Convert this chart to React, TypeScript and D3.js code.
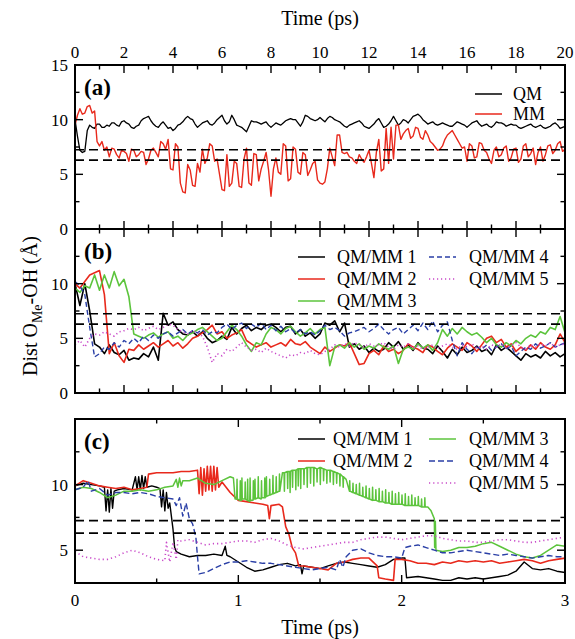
import React from "react";
import * as d3 from "d3";

// ---------- DATA ----------
const STEP_A = 0.1; // ps between samples in panel (a)
const STEP_B = 0.2; // ps between samples in panel (b)

// Panel (a)
const qmA = [
  10.0, 8.5, 7.2, 7.0, 7.1, 9.0, 9.5, 9.3, 9.2, 9.6,
  9.6, 9.3, 9.3, 9.5, 9.4, 9.7, 9.7, 9.5, 9.4, 9.8,
  9.9, 9.7, 9.6, 9.3, 9.2, 9.4, 9.5, 9.9, 10.1, 10.2,
  10.3, 9.9, 9.6, 9.4, 9.3, 9.6, 9.8, 9.5, 9.2, 9.3,
  9.0, 9.2, 9.5, 9.6, 9.8, 10.1, 10.3, 10.1, 10.0, 9.6,
  9.3, 9.5, 9.7, 9.8, 9.9, 9.6, 9.5, 9.7, 10.0, 10.2,
  10.4, 9.9, 9.6, 9.8, 10.4, 10.0, 9.5, 9.4, 9.3, 9.1,
  8.9, 9.4, 9.9, 9.8, 9.8, 9.7, 9.6, 9.7, 9.8, 9.5,
  9.3, 9.5, 9.7, 9.6, 9.5, 9.7, 9.9, 10.0, 10.1, 10.0,
  10.0, 9.7, 9.4, 9.8, 10.4, 10.3, 10.1, 10.0, 9.9, 10.0,
  10.2, 10.0, 9.8, 10.1, 10.3, 10.2, 10.0, 9.9, 9.8, 9.6,
  9.4, 9.3, 9.5, 9.6, 9.7, 9.8, 9.9, 9.7, 9.4, 9.3,
  9.2, 9.4, 9.6, 9.9, 10.1, 9.7, 9.3, 9.4, 9.6, 9.9,
  10.3, 9.9, 9.5, 9.7, 10.0, 9.9, 9.7, 10.0, 10.3, 10.4,
  10.5, 10.3, 10.0, 9.8, 9.6, 9.7, 9.8, 9.6, 9.5, 9.6,
  9.7, 9.6, 9.5, 9.4, 9.4, 9.6, 9.8, 9.7, 9.6, 9.5,
  9.3, 9.5, 9.7, 9.8, 9.9, 9.6, 9.4, 9.5, 9.6, 9.4,
  9.3, 9.5, 9.8, 9.7, 9.7, 9.6, 9.4, 9.5, 9.6, 9.5,
  9.5, 9.3, 9.2, 9.3, 9.4, 9.5, 9.6, 9.4, 9.3, 9.4,
  9.5, 9.3, 9.2, 9.3, 9.4, 9.6, 9.7, 9.5, 9.2, 9.3,
  9.4,
];
const mmA = [
  9.5, 10.4, 11.0, 10.5, 10.6, 11.2, 11.3, 10.6, 10.8, 8.0,
  7.6, 8.0, 7.2, 7.5, 6.6, 7.4, 7.3, 6.8, 6.5, 7.2,
  7.1, 6.9, 6.2, 7.3, 7.2, 6.6, 6.8, 7.1, 7.0, 5.9,
  6.4, 7.2, 7.4, 7.0, 6.6, 8.0, 7.8, 7.3, 8.2, 5.5,
  5.4, 7.8, 7.5, 4.2, 3.4, 3.3, 5.9, 5.4, 4.0, 3.9,
  6.0, 5.2, 7.3, 6.0, 6.5, 7.8, 7.6, 6.2, 6.4, 5.0,
  3.6, 3.5, 6.8, 3.9, 4.2, 6.2, 6.0, 3.9, 3.8, 6.4,
  7.4, 4.2, 4.0, 6.9, 6.8, 4.4, 5.5, 6.2, 7.0, 5.4,
  3.0, 5.5, 6.5, 5.2, 5.0, 7.8, 7.6, 4.4, 4.6, 7.5,
  7.3, 5.2, 5.0, 7.0, 6.8, 4.9, 5.4, 6.0, 6.2, 4.5,
  4.2, 4.1, 4.3, 5.5, 7.4, 6.6, 5.8, 8.6, 8.6, 7.0,
  6.9, 7.0, 6.6, 6.5, 6.2, 6.0, 6.8, 6.4, 6.1, 6.6,
  7.2, 6.0, 4.7, 7.0, 8.2, 5.3, 5.5, 9.2, 6.0, 9.3,
  6.4, 9.5, 9.5, 8.2, 8.7, 9.0, 9.2, 8.3, 8.5, 9.3,
  9.2, 8.4, 8.2, 9.0, 8.6, 8.0, 7.8, 7.5, 7.2, 7.3,
  7.6, 8.2, 8.6, 8.8, 9.0, 8.6, 8.2, 7.8, 7.4, 7.5,
  6.2, 7.8, 7.6, 6.5, 6.6, 7.9, 7.8, 7.2, 7.0, 6.4,
  6.0, 7.2, 7.5, 6.6, 6.8, 7.4, 7.6, 6.2, 6.5, 7.3,
  7.4, 6.1, 6.4, 7.6, 7.8, 6.6, 6.9, 7.4, 5.9, 7.0,
  7.5, 6.2, 6.8, 7.6, 7.7, 6.9, 7.2, 7.8, 8.0, 7.1,
  7.3,
];

// Panel (b)
const b1 = [
  10.0, 8.0, 10.0, 7.5, 4.5, 4.2, 3.6, 4.4, 3.7, 3.5,
  3.9, 3.0, 3.2, 3.1, 3.6, 3.3, 4.2, 3.0, 7.3, 6.2,
  6.5, 5.8, 5.4, 5.3, 5.6, 5.2, 5.6, 5.0, 4.6, 4.8,
  5.2, 4.9, 6.0, 5.4, 5.9, 6.2, 5.7, 6.0, 5.8, 6.2,
  6.3, 6.0, 5.6, 6.0, 6.1, 5.4, 5.8, 5.2, 5.5, 5.0,
  5.4, 6.4, 6.2, 6.6, 5.6, 6.4, 4.2, 4.5, 4.0, 4.3,
  3.7, 4.1, 3.8, 4.0, 4.6, 4.2, 4.7, 4.0, 4.4, 3.9,
  4.6, 4.1, 4.0, 3.6, 4.3, 3.8, 3.2, 4.0, 3.5, 4.2,
  3.7, 3.9, 4.3, 3.8, 4.0, 3.5, 4.4, 3.9, 4.2, 3.8,
  3.4, 3.0, 3.6, 3.3, 3.5, 3.2, 3.8, 3.4, 3.7, 3.3,
  3.6,
];
const b2 = [
  10.0, 9.6, 10.2, 10.8, 11.0, 11.2, 9.0, 3.6, 4.6, 3.4,
  2.8, 4.0, 3.9, 4.4, 4.0, 4.3, 4.6, 4.2, 4.5, 4.8,
  4.3, 4.6, 4.1, 4.5, 5.0, 5.2, 5.5, 5.8, 6.2, 5.4,
  5.6, 5.0, 5.3, 5.5, 5.8, 4.8, 4.5, 4.2, 4.4, 4.6,
  4.2, 4.4, 4.6, 4.3, 4.9, 4.5, 4.4, 4.7, 4.2, 3.9,
  3.6, 4.2, 3.8, 4.1, 4.4, 4.3, 4.6, 3.6, 2.6, 2.7,
  3.6, 3.9, 3.5, 4.3, 3.8, 4.0, 3.6, 3.9, 4.5, 4.2,
  4.0, 3.7, 4.4, 4.2, 3.8, 3.5, 4.1, 4.5, 4.2, 3.9,
  4.6, 4.3, 3.8, 4.4, 5.0, 5.2, 4.6, 4.9, 4.2, 4.5,
  3.8, 4.2, 3.9, 4.4, 4.0, 4.6, 4.2, 4.0, 4.4, 5.4,
  4.6,
];
const b3 = [
  9.6, 9.2, 9.8, 9.6, 10.8, 9.4, 10.8, 9.6, 11.1, 9.8,
  10.4, 8.8, 5.4, 5.2, 5.0, 5.3, 5.5, 5.1, 5.4, 5.6,
  5.0, 5.2, 4.8, 5.3, 5.5, 5.8, 6.0, 5.6, 5.2, 4.8,
  5.0, 5.6, 6.2, 5.8, 5.2, 4.4, 3.8, 4.6, 4.4, 5.4,
  6.0, 5.8, 5.4, 5.9, 6.1, 5.6, 5.2, 5.5, 5.9, 5.4,
  5.8, 6.0, 2.5, 4.2, 4.4, 4.1, 4.6, 4.2, 4.5, 4.0,
  4.3, 4.1, 4.5, 4.2, 4.0, 4.3, 2.7, 4.0, 4.2, 4.0,
  4.5, 4.1, 4.4, 3.9, 4.6, 5.8, 5.2, 5.9, 5.4, 6.0,
  5.6, 5.3, 5.5, 5.1, 4.6, 5.0, 4.4, 4.2, 4.6, 4.3,
  4.8, 4.5, 5.0, 5.3, 5.1, 5.6, 5.4, 6.0, 5.8, 7.0,
  5.5,
];
const b4 = [
  10.2, 9.8, 9.0, 6.0, 3.3, 3.6, 4.2, 4.0, 4.6, 4.2,
  4.8, 4.5, 5.0, 4.6, 5.2, 4.8, 5.3, 5.0, 5.4, 5.6,
  5.2, 5.5, 5.8, 5.4, 5.7, 5.5, 5.8, 5.3, 5.6, 5.5,
  6.0, 6.3, 5.8, 6.2, 6.4, 5.9, 6.3, 6.0, 6.4, 5.8,
  6.2, 5.7, 6.1, 5.6, 5.9, 5.5, 5.8, 5.4, 5.6, 5.3,
  5.7, 6.2, 5.8, 6.0, 5.7, 5.2, 5.5, 5.6, 5.8, 6.0,
  5.6, 5.9, 6.3, 5.8, 5.4, 5.8, 6.0, 5.4, 5.8, 6.2,
  5.7, 6.4, 5.8, 6.6, 5.6, 6.2, 6.5, 4.8, 3.4, 4.6,
  4.0, 3.6, 4.2, 4.0, 4.4, 3.9, 4.2, 4.5, 4.0, 4.3,
  3.4, 3.8, 4.2, 4.0, 4.5, 4.1, 4.3, 4.6, 4.2, 4.4,
  4.6,
];
const b5 = [
  4.4, 4.8, 4.2, 5.0, 5.4, 5.3, 5.6, 5.4, 5.2, 5.6,
  5.7, 5.9, 5.8, 6.0, 5.7, 5.9, 6.1, 5.8, 6.0, 6.3,
  6.2, 5.8, 5.6, 5.4, 5.7, 5.5, 5.2, 4.2, 2.8, 3.6,
  3.4, 4.0, 3.8, 4.2, 4.6, 4.2, 3.9, 4.0, 3.7, 4.1,
  3.8, 3.6, 3.4, 3.2, 3.5, 3.4, 3.7, 3.6, 3.9, 3.6,
  3.5, 3.8, 4.0, 4.4, 4.2, 4.5, 4.3, 4.6, 4.4, 4.2,
  4.5, 4.3, 4.4, 4.6, 4.2, 4.0, 4.4, 4.2, 4.5, 4.1,
  4.3, 4.0, 4.2, 4.4, 4.1, 4.3, 4.5, 4.2, 4.0, 4.4,
  4.2, 4.5, 4.1, 4.3, 4.0, 4.4, 4.2, 4.5, 4.1, 4.3,
  4.6, 4.2, 4.0, 4.4, 4.2, 4.5, 4.3, 4.6, 4.2, 4.4,
  4.5,
];

// Panel (c): [time (ps), distance (Å)]
const c1: [number, number][] = [
  [0, 9.9], [0.05, 10.1], [0.1, 10.0], [0.15, 9.9], [0.18, 9.8], [0.19, 8.0], [0.2, 9.6], [0.21, 7.9],
  [0.22, 9.7], [0.23, 8.2], [0.24, 9.5], [0.26, 9.6], [0.3, 9.7], [0.35, 9.6], [0.37, 10.6], [0.38, 9.6],
  [0.39, 10.6], [0.4, 9.6], [0.41, 10.7], [0.42, 9.7], [0.43, 10.6], [0.44, 9.8], [0.47, 9.9], [0.5, 9.8],
  [0.52, 9.7], [0.53, 8.3], [0.54, 9.6], [0.55, 8.0], [0.56, 9.4], [0.57, 8.2], [0.58, 8.6], [0.6, 6.6],
  [0.61, 5.2], [0.62, 4.9], [0.65, 4.7], [0.7, 4.5], [0.75, 4.6], [0.8, 4.6], [0.85, 4.7], [0.9, 4.6],
  [0.92, 5.3], [0.93, 4.6], [0.95, 4.5], [1.0, 4.1], [1.05, 3.7], [1.1, 3.4], [1.15, 3.5], [1.2, 3.7],
  [1.25, 3.9], [1.3, 4.0], [1.35, 3.8], [1.38, 3.9], [1.39, 3.2], [1.4, 3.8], [1.45, 3.7], [1.5, 3.6],
  [1.55, 3.8], [1.6, 4.0], [1.65, 4.1], [1.7, 4.0], [1.75, 3.9], [1.8, 3.8], [1.85, 3.7], [1.9, 3.9],
  [1.95, 4.3], [2.0, 4.4], [2.02, 4.4], [2.03, 2.9], [2.1, 3.0], [2.15, 2.9], [2.2, 2.8], [2.25, 2.7],
  [2.3, 2.7], [2.35, 2.9], [2.4, 2.8], [2.45, 2.9], [2.5, 2.8], [2.55, 2.9], [2.6, 3.0], [2.65, 3.1],
  [2.7, 3.4], [2.75, 4.1], [2.8, 3.6], [2.85, 3.5], [2.9, 3.6], [2.95, 3.4], [3.0, 3.3],
];
const c2: [number, number][] = [
  [0, 9.9], [0.05, 10.3], [0.1, 10.1], [0.15, 9.9], [0.2, 9.8], [0.25, 9.7], [0.3, 9.8], [0.35, 9.6],
  [0.4, 9.7], [0.44, 9.8], [0.45, 10.8], [0.5, 10.9], [0.55, 10.9], [0.6, 10.9], [0.65, 11.0], [0.7, 11.0],
  [0.75, 11.1], [0.76, 9.3], [0.77, 11.3], [0.78, 9.2], [0.79, 11.2], [0.8, 9.5], [0.81, 11.4], [0.82, 9.6],
  [0.83, 11.4], [0.84, 9.5], [0.85, 11.4], [0.86, 9.6], [0.87, 11.3], [0.88, 9.8], [0.9, 10.2], [0.95, 9.4],
  [1.0, 8.8], [1.05, 8.7], [1.1, 8.6], [1.15, 8.5], [1.18, 8.4], [1.19, 7.4], [1.2, 8.4], [1.25, 8.5],
  [1.27, 8.3], [1.29, 6.8], [1.31, 6.2], [1.33, 5.2], [1.35, 4.8], [1.37, 3.8], [1.4, 3.8], [1.45, 3.7],
  [1.5, 3.6], [1.55, 3.5], [1.6, 4.0], [1.65, 4.1], [1.7, 4.3], [1.75, 4.4], [1.8, 4.4], [1.85, 3.8],
  [1.86, 2.9], [1.9, 2.8], [1.95, 2.7], [1.96, 4.3], [2.0, 4.3], [2.05, 4.2], [2.1, 4.0], [2.15, 4.0],
  [2.2, 3.9], [2.25, 4.1], [2.3, 4.0], [2.35, 4.2], [2.4, 4.1], [2.45, 4.2], [2.5, 4.1], [2.55, 4.2],
  [2.6, 4.0], [2.65, 4.1], [2.7, 4.2], [2.75, 4.3], [2.8, 4.2], [2.85, 4.0], [2.9, 4.2], [2.95, 4.3],
  [3.0, 4.4],
];
const c3: [number, number][] = [
  [0, 9.6], [0.05, 9.8], [0.1, 9.7], [0.15, 9.4], [0.2, 9.0], [0.25, 9.2], [0.3, 9.5], [0.35, 9.5],
  [0.4, 9.6], [0.45, 9.5], [0.5, 9.6], [0.55, 9.8], [0.6, 9.9], [0.62, 10.4], [0.63, 9.8], [0.64, 10.5],
  [0.65, 9.9], [0.66, 10.3], [0.7, 10.3], [0.75, 10.5], [0.8, 10.1], [0.85, 10.0], [0.9, 10.3], [0.95, 10.6],
  [0.97, 10.5],
  [0.98, 8.9], [0.99, 8.9], [0.992, 10.4], [0.994, 8.9], [1.01, 8.8], [1.012, 10.3], [1.014, 8.8], [1.02, 8.8],
  [1.022, 10.5], [1.024, 8.9], [1.04, 8.9], [1.042, 10.2], [1.044, 8.9], [1.055, 8.8], [1.057, 10.4], [1.059, 8.8],
  [1.07, 8.7], [1.072, 10.5], [1.074, 8.8], [1.09, 8.8], [1.092, 10.3], [1.094, 8.9], [1.1, 8.9], [1.102, 10.4],
  [1.104, 8.9], [1.12, 9.0], [1.122, 10.6], [1.124, 9.0], [1.14, 8.9], [1.142, 10.3], [1.144, 9.0], [1.16, 9.0],
  [1.162, 10.5], [1.164, 9.0], [1.17, 9.1], [1.172, 10.6], [1.174, 9.1], [1.19, 9.2], [1.192, 10.4], [1.194, 9.2],
  [1.21, 9.3], [1.212, 10.7], [1.214, 9.3], [1.23, 9.4], [1.232, 10.6], [1.234, 9.4], [1.25, 9.5], [1.252, 10.8],
  [1.254, 9.5],
  [1.27, 10.9], [1.28, 10.9], [1.282, 9.5], [1.284, 10.9], [1.3, 11.0], [1.302, 9.7], [1.304, 11.0], [1.315, 11.0],
  [1.317, 9.4], [1.319, 11.0], [1.33, 11.1], [1.332, 9.8], [1.334, 11.1], [1.35, 11.1], [1.352, 9.6], [1.354, 11.1],
  [1.365, 11.2], [1.367, 9.9], [1.369, 11.2], [1.38, 11.2], [1.382, 9.7], [1.384, 11.2], [1.4, 11.2], [1.402, 10.0],
  [1.404, 11.2], [1.42, 11.3], [1.422, 9.8], [1.424, 11.3], [1.44, 11.3], [1.442, 10.1], [1.444, 11.3], [1.46, 11.3],
  [1.462, 9.9], [1.464, 11.3], [1.48, 11.2], [1.482, 10.2], [1.484, 11.2], [1.5, 11.3], [1.502, 10.0], [1.504, 11.3],
  [1.52, 11.2], [1.522, 10.3], [1.524, 11.2], [1.54, 11.1], [1.542, 10.1], [1.544, 11.1], [1.56, 11.1], [1.562, 10.2],
  [1.564, 11.1], [1.58, 11.0], [1.582, 10.0], [1.584, 11.0], [1.6, 10.9], [1.602, 10.1], [1.604, 10.9], [1.62, 10.8],
  [1.622, 9.9], [1.624, 10.8], [1.64, 10.6], [1.642, 9.8], [1.644, 10.6], [1.66, 10.4],
  [1.68, 9.5], [1.682, 10.3], [1.684, 9.5], [1.7, 9.4], [1.702, 10.1], [1.704, 9.4], [1.72, 9.3], [1.722, 10.0],
  [1.724, 9.3], [1.74, 9.2], [1.742, 10.1], [1.744, 9.2], [1.76, 9.1], [1.762, 9.8], [1.764, 9.1], [1.78, 9.0],
  [1.782, 9.9], [1.784, 9.0], [1.8, 8.9], [1.802, 9.7], [1.804, 8.9], [1.82, 8.8], [1.822, 9.8], [1.824, 8.8],
  [1.84, 8.8], [1.842, 9.6], [1.844, 8.8], [1.86, 8.7], [1.862, 9.7], [1.864, 8.7], [1.88, 8.7], [1.882, 9.5],
  [1.884, 8.7], [1.9, 8.6], [1.902, 9.6], [1.904, 8.6], [1.92, 8.6], [1.922, 9.4], [1.924, 8.6], [1.94, 8.5],
  [1.942, 9.5], [1.944, 8.5], [1.96, 8.5], [1.962, 9.3], [1.964, 8.5], [1.98, 8.5], [1.982, 9.4], [1.984, 8.5],
  [2.0, 8.5], [2.002, 9.2], [2.004, 8.5], [2.02, 8.4], [2.022, 9.3], [2.024, 8.4], [2.04, 8.4], [2.042, 9.1],
  [2.044, 8.4], [2.06, 8.4], [2.062, 9.2], [2.064, 8.4], [2.08, 8.4], [2.082, 9.0], [2.084, 8.4], [2.1, 8.4],
  [2.102, 9.1], [2.104, 8.4], [2.12, 8.3], [2.122, 8.9], [2.124, 8.3], [2.14, 8.3], [2.142, 9.0], [2.144, 8.3],
  [2.16, 8.3], [2.18, 8.0], [2.2, 7.4], [2.202, 5.2], [2.206, 7.2], [2.21, 5.0],
  [2.25, 4.9], [2.3, 5.0], [2.35, 5.2], [2.4, 5.2], [2.45, 5.3], [2.5, 5.5], [2.55, 5.6], [2.6, 5.3],
  [2.65, 5.0], [2.7, 4.7], [2.75, 4.5], [2.8, 4.4], [2.85, 4.6], [2.9, 5.0], [2.95, 5.4], [3.0, 5.3],
];
const c4: [number, number][] = [
  [0, 9.6], [0.05, 9.8], [0.08, 10.3], [0.1, 9.5], [0.15, 9.7], [0.2, 9.2], [0.25, 9.4], [0.3, 9.4],
  [0.35, 9.3], [0.4, 9.4], [0.45, 9.3], [0.5, 9.1], [0.55, 9.0], [0.6, 8.9], [0.62, 8.4], [0.64, 9.0],
  [0.66, 7.6], [0.68, 8.6], [0.7, 7.4], [0.72, 7.0], [0.74, 6.0], [0.75, 4.5], [0.76, 3.2], [0.8, 3.3],
  [0.85, 3.6], [0.9, 3.9], [0.95, 4.1], [1.0, 4.1], [1.05, 4.2], [1.1, 4.1], [1.15, 4.0], [1.2, 4.0],
  [1.25, 3.9], [1.3, 3.8], [1.35, 3.7], [1.4, 3.6], [1.45, 3.5], [1.5, 3.6], [1.55, 3.7], [1.6, 3.5],
  [1.62, 4.3], [1.64, 3.7], [1.66, 4.5], [1.7, 5.0], [1.75, 5.1], [1.8, 4.8], [1.85, 4.6], [1.9, 4.5],
  [1.95, 4.5], [2.0, 4.4], [2.02, 5.2], [2.05, 5.3], [2.1, 5.4], [2.15, 5.2], [2.2, 5.0], [2.25, 4.8],
  [2.3, 4.8], [2.35, 4.9], [2.4, 5.0], [2.45, 4.9], [2.5, 4.8], [2.55, 4.7], [2.6, 4.6], [2.65, 4.7],
  [2.7, 4.6], [2.75, 4.5], [2.8, 4.4], [2.85, 4.5], [2.9, 4.6], [2.95, 4.5], [3.0, 4.5],
];
const c5: [number, number][] = [
  [0, 4.9], [0.05, 4.5], [0.1, 4.4], [0.15, 4.3], [0.2, 4.3], [0.25, 4.5], [0.3, 4.8], [0.35, 5.0],
  [0.4, 4.8], [0.45, 4.5], [0.5, 4.3], [0.55, 4.2], [0.56, 5.6], [0.58, 4.1], [0.6, 5.6], [0.62, 4.3],
  [0.63, 5.8], [0.65, 5.7], [0.7, 5.8], [0.75, 5.6], [0.8, 5.4], [0.85, 5.5], [0.9, 5.5], [0.95, 5.6],
  [1.0, 5.7], [1.05, 5.7], [1.1, 5.6], [1.15, 5.8], [1.2, 5.9], [1.25, 5.7], [1.3, 5.4], [1.35, 5.2],
  [1.4, 5.1], [1.45, 5.2], [1.5, 5.3], [1.55, 5.4], [1.6, 5.5], [1.65, 5.6], [1.7, 5.6], [1.75, 5.8],
  [1.8, 5.9], [1.85, 6.0], [1.9, 6.0], [1.95, 5.9], [2.0, 5.8], [2.05, 5.9], [2.1, 6.0], [2.15, 6.1],
  [2.2, 6.1], [2.25, 5.9], [2.3, 5.8], [2.35, 5.7], [2.4, 5.7], [2.45, 5.6], [2.5, 5.6], [2.55, 5.7],
  [2.6, 5.8], [2.65, 5.8], [2.7, 5.7], [2.75, 5.6], [2.8, 5.6], [2.85, 5.7], [2.9, 5.8], [2.95, 5.9],
  [3.0, 6.0],
];

const refLevels = [7.25, 6.3];
const ticksLongMajor = [0, 2, 4, 6, 8, 10, 12, 14, 16, 18, 20];
const ticksLongMinor = [1, 3, 5, 7, 9, 11, 13, 15, 17, 19];
const ticksShortMajor = [0, 1, 2, 3];
const ticksShortMinor = [0.5, 1.5, 2.5];
const yMajor = [0, 5, 10, 15];
const yMinor = [2.5, 7.5, 12.5];

// ---------- STYLE ----------
const FONT = "'Liberation Serif', 'Times New Roman', Times, serif";
const C_BLACK = "#000000";
const C_RED = "#e8291c";
const C_GREEN = "#5cc43c";
const C_BLUE = "#2a3fa6";
const C_MAG = "#c848c8";

const X0 = 75, X1 = 565;

type S = { name: string; color: string; dash?: string; width: number; data: [number, number][] };
const grid = (vals: number[], step: number): [number, number][] => vals.map((v, i) => [i * step, v]);

export default function App() {
  const xL = d3.scaleLinear().domain([0, 20]).range([X0, X1]);
  const xS = d3.scaleLinear().domain([0, 3]).range([X0, X1]);
  const yA = d3.scaleLinear().domain([0, 15]).range([229, 65]);
  const yB = d3.scaleLinear().domain([0, 15]).range([393, 229]);
  const yC = d3.scaleLinear().domain([2.5, 15]).range([583, 419]);

  const seriesA: S[] = [
    { name: "QM", color: C_BLACK, width: 1.3, data: grid(qmA, STEP_A) },
    { name: "MM", color: C_RED, width: 1.4, data: grid(mmA, STEP_A) },
  ];
  const seriesB: S[] = [
    { name: "QM/MM 1", color: C_BLACK, width: 1.6, data: grid(b1, STEP_B) },
    { name: "QM/MM 2", color: C_RED, width: 1.6, data: grid(b2, STEP_B) },
    { name: "QM/MM 3", color: C_GREEN, width: 1.6, data: grid(b3, STEP_B) },
    { name: "QM/MM 4", color: C_BLUE, width: 1.4, dash: "5,3", data: grid(b4, STEP_B) },
    { name: "QM/MM 5", color: C_MAG, width: 1.6, dash: "1.2,2.8", data: grid(b5, STEP_B) },
  ];
  const seriesC: S[] = [
    { name: "QM/MM 1", color: C_BLACK, width: 1.4, data: c1 },
    { name: "QM/MM 2", color: C_RED, width: 1.6, data: c2 },
    { name: "QM/MM 3", color: C_GREEN, width: 1.5, data: c3 },
    { name: "QM/MM 4", color: C_BLUE, width: 1.4, dash: "6,3", data: c4 },
    { name: "QM/MM 5", color: C_MAG, width: 1.6, dash: "1.2,3", data: c5 },
  ];

  const panel = (
    id: string,
    x: d3.ScaleLinear<number, number>,
    y: d3.ScaleLinear<number, number>,
    series: S[],
    xMaj: number[],
    xMin: number[],
    yMaj: number[],
    yMin: number[],
    yLabels: number[],
  ) => {
    const [yb, yt] = y.range();
    const line = d3
      .line<[number, number]>()
      .x((d) => x(d[0]))
      .y((d) => y(d[1]));
    const maj = 8, min = 4.5;
    return (
      <g key={id}>
        <clipPath id={`clip-${id}`}>
          <rect x={X0} y={yt} width={X1 - X0} height={yb - yt} />
        </clipPath>
        <g clipPath={`url(#clip-${id})`}>
          {series.map((s) => (
            <path
              key={s.name}
              d={line(s.data) || ""}
              fill="none"
              stroke={s.color}
              strokeWidth={s.width}
              strokeDasharray={s.dash}
              strokeLinejoin="round"
            />
          ))}
          {refLevels.map((r) => (
            <line key={r} x1={X0} x2={X1} y1={y(r)} y2={y(r)} stroke="#000" strokeWidth={1.7} strokeDasharray="9,5" />
          ))}
        </g>
        {xMaj.map((t) => (
          <g key={"xM" + t}>
            <line x1={x(t)} x2={x(t)} y1={yb} y2={yb - maj} stroke="#000" strokeWidth={1.4} />
            <line x1={x(t)} x2={x(t)} y1={yt} y2={yt + maj} stroke="#000" strokeWidth={1.4} />
          </g>
        ))}
        {xMin.map((t) => (
          <g key={"xm" + t}>
            <line x1={x(t)} x2={x(t)} y1={yb} y2={yb - min} stroke="#000" strokeWidth={1.4} />
            <line x1={x(t)} x2={x(t)} y1={yt} y2={yt + min} stroke="#000" strokeWidth={1.4} />
          </g>
        ))}
        {yMaj.map((v) => (
          <g key={"yM" + v}>
            <line x1={X0} x2={X0 + maj} y1={y(v)} y2={y(v)} stroke="#000" strokeWidth={1.4} />
            <line x1={X1} x2={X1 - maj} y1={y(v)} y2={y(v)} stroke="#000" strokeWidth={1.4} />
          </g>
        ))}
        {yMin.map((v) => (
          <g key={"ym" + v}>
            <line x1={X0} x2={X0 + min} y1={y(v)} y2={y(v)} stroke="#000" strokeWidth={1.4} />
            <line x1={X1} x2={X1 - min} y1={y(v)} y2={y(v)} stroke="#000" strokeWidth={1.4} />
          </g>
        ))}
        {yLabels.map((v) => (
          <text key={"yl" + v} x={X0 - 7} y={y(v)} dy="0.35em" textAnchor="end" fontSize={17} fontFamily={FONT}>
            {v}
          </text>
        ))}
        <rect x={X0} y={yt} width={X1 - X0} height={yb - yt} fill="none" stroke="#000" strokeWidth={2} />
        <text x={84} y={yt + 30} fontSize={23} fontWeight="bold" fontFamily={FONT}>
          ({id})
        </text>
      </g>
    );
  };

  const legendItem = (s: S, lx: number, ly: number, tx: number) => (
    <g key={s.name + lx + ly}>
      <line x1={lx} x2={lx + 27} y1={ly} y2={ly} stroke={s.color} strokeWidth={1.5} strokeDasharray={s.dash} />
      <text x={tx} y={ly} dy="0.35em" fontSize={18} fontFamily={FONT}>
        {s.name}
      </text>
    </g>
  );

  return (
    <svg width={575} height={639} style={{ position: "absolute", left: 0, top: 0, background: "#fff" }}>
      <text x={(X0 + X1) / 2} y={25} textAnchor="middle" fontSize={20} fontFamily={FONT}>
        Time (ps)
      </text>
      {ticksLongMajor.map((t) => (
        <text key={"tt" + t} x={xL(t)} y={58} textAnchor="middle" fontSize={17} fontFamily={FONT}>
          {t}
        </text>
      ))}
      {panel("a", xL, yA, seriesA, ticksLongMajor, ticksLongMinor, yMajor, yMinor, [15, 10, 5, 0])}
      {panel("b", xL, yB, seriesB, ticksLongMajor, ticksLongMinor, yMajor, yMinor, [10, 5, 0])}
      {panel("c", xS, yC, seriesC, ticksShortMajor, ticksShortMinor, [5, 10, 15], [7.5, 12.5], [10, 5])}

      {legendItem(seriesA[0], 475, 94, 513)}
      {legendItem(seriesA[1], 475, 114, 513)}

      {legendItem(seriesB[0], 298, 257, 337)}
      {legendItem(seriesB[1], 298, 279, 337)}
      {legendItem(seriesB[2], 298, 301, 337)}
      {legendItem(seriesB[3], 429, 257, 469)}
      {legendItem(seriesB[4], 429, 279, 469)}

      {legendItem(seriesC[0], 298, 439, 333)}
      {legendItem(seriesC[1], 298, 461, 333)}
      {legendItem(seriesC[2], 429, 439, 469)}
      {legendItem(seriesC[3], 429, 461, 469)}
      {legendItem(seriesC[4], 429, 483, 469)}

      {ticksShortMajor.map((t) => (
        <text key={"bt" + t} x={xS(t)} y={606} textAnchor="middle" fontSize={17} fontFamily={FONT}>
          {t}
        </text>
      ))}
      <text x={(X0 + X1) / 2} y={634} textAnchor="middle" fontSize={20} fontFamily={FONT}>
        Time (ps)
      </text>

      <text transform={`translate(37,${306}) rotate(-90)`} textAnchor="middle" fontSize={20} fontFamily={FONT}>
        Dist O
        <tspan fontSize={14} dy={5}>Me</tspan>
        <tspan dy={-5}>-OH (Å)</tspan>
      </text>
    </svg>
  );
}
